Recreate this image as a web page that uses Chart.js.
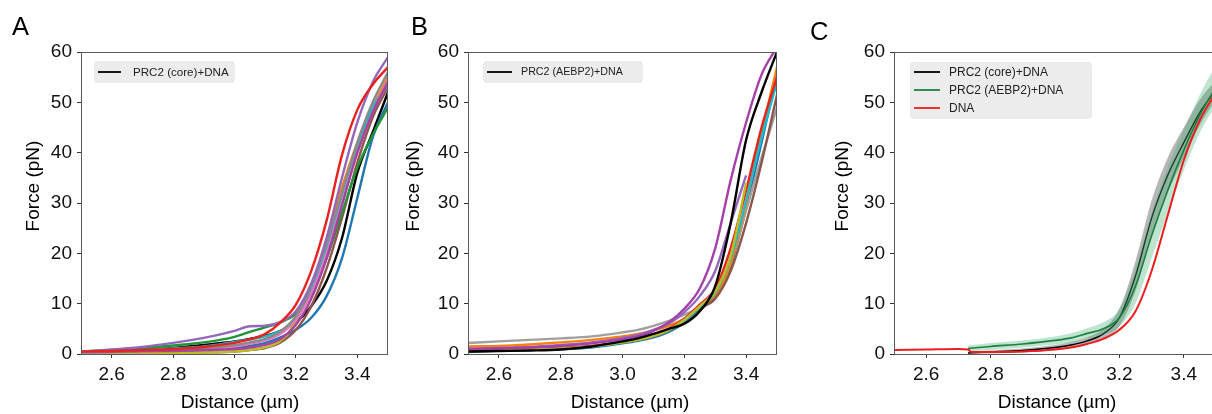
<!DOCTYPE html>
<html><head><meta charset="utf-8">
<script src="https://cdn.jsdelivr.net/npm/chart.js@4.4.1/dist/chart.umd.min.js"></script>
<style>
html,body{margin:0;padding:0;width:1212px;height:414px;overflow:hidden;background:#fff;}
.panel{position:absolute;top:0;}
canvas{display:block;}
</style></head><body>
<div class="panel" style="left:0px"><canvas id="cA" width="400" height="414"></canvas></div>
<div class="panel" style="left:404px"><canvas id="cB" width="400" height="414"></canvas></div>
<div class="panel" style="left:808px"><canvas id="cC" width="420" height="414"></canvas></div>
<script>
// ---------- data ----------
const X_TICKS = [2.6, 2.8, 3.0, 3.2, 3.4];
const Y_TICKS = [0, 10, 20, 30, 40, 50, 60];
// distance grid (µm) for panels A and B
const X = [2.5, 2.6, 2.7, 2.8, 2.9, 3.0, 3.05, 3.1, 3.15, 3.2, 3.25, 3.3, 3.35, 3.4, 3.45, 3.5];

// Panel A: PRC2 (core)+DNA traces, force (pN)
const A_BLACK   = [0.3,0.5,0.8,1.2,1.8,2.5,3.0,3.6,4.6,6.3,9.5,14.5,23,36,44,52];
const A_BLUE    = [0.3,0.4,0.5,0.6,0.8,1.2,1.6,2.2,3.3,4.8,7.2,11.5,19,31,43,50];
const A_BROWN   = [0.1,0.1,0.1,0.2,0.3,0.5,0.8,1.2,2.3,4.8,9.5,17,27,38,47,53];
const A_OLIVE   = [0.1,0.1,0.2,0.2,0.3,0.5,0.8,1.3,2.6,6.5,13,23,33,41,49,54];
const A_ORANGE  = [0.3,0.4,0.5,0.7,1.0,1.6,2.1,2.9,4.3,7.2,13,22.5,33,42,49,55];
const A_CYAN    = [0.4,0.6,0.8,1.1,1.5,2.4,2.9,3.5,4.6,7.0,12.5,21,31.5,41.5,49,53.5];
const A_GREEN   = [0.5,0.8,1.2,1.7,2.3,3.4,4.4,5.3,6.3,8.0,12,19,28,37,43.5,49];
const A_PINK    = [0.3,0.4,0.5,0.7,1.0,1.5,2.0,2.7,4.0,6.8,12,20,30,40,48,54.5];
const A_GRAY    = [0.3,0.4,0.6,0.8,1.2,1.8,2.3,3.0,4.5,7.5,13.5,22,32,42,50,56];
const A_MAGENTA = [0.5,0.5,0.6,0.6,0.8,1.0,1.3,1.8,3.0,5.8,11,19,29.5,40,48,54];
const A_PURPLE  = [0.5,0.9,1.4,2.2,3.2,4.6,5.5,5.6,6.4,8.5,14,23,35,46,54,59];
const A_RED     = [0.5,0.6,0.8,1.0,1.4,2.2,2.9,4.0,6.3,9.8,16.5,26.5,39.5,48.5,53.5,57];

// Panel B: PRC2 (AEBP2)+DNA traces, force (pN)
const B_BLUE     = [0.4,0.7,0.8,1.0,1.3,2.1,2.6,3.3,4.4,6.2,8.8,11.5,17.5,29,42,55.5];
const B_GRAY     = [2.2,2.5,2.8,3.1,3.5,4.3,4.8,5.6,6.6,7.8,9.3,11.5,18,28.5,39,49];
const B_ORANGE   = [1.5,1.6,1.9,2.3,2.8,3.5,4.0,4.7,5.6,7.0,9.0,11.5,18,30,44,57];
const B_BROWN    = [0.6,0.8,0.9,1.1,1.5,2.3,2.8,3.5,4.6,6.5,9.0,11,16.5,26,38,51.5];
const B_CYAN     = [0.6,0.8,0.9,1.1,1.5,2.3,2.8,3.6,4.7,6.6,9.3,12.2,19,30.5,43,54];
const B_RED      = [0.8,0.9,1.0,1.2,1.6,2.4,3.0,3.8,5.0,7.0,9.8,13,21,32.5,45,55];
const B_OLIVE    = [0.6,0.8,0.9,1.1,1.5,2.3,2.8,3.6,4.8,6.8,9.5,12.5,19.5,34,null,null];
const B_LAVENDER = [1.0,1.2,1.4,1.8,2.3,3.2,3.8,4.8,6.0,8.3,11.5,16.5,26,35.5,null,null];
const B_MAGENTA  = [1.0,1.1,1.3,1.6,2.1,2.9,3.5,4.6,6.3,9.0,13,21,34.5,46,55.5,61];
const B_BLACK    = [0.5,0.6,0.7,0.9,1.5,2.5,3.1,4.0,5.0,6.0,8.5,13.5,26,42.5,52,60];

// Panel C: averaged curves with spread bands
const C_X        = [2.73, 2.8, 2.9, 3.0, 3.05, 3.1, 3.15, 3.2, 3.25, 3.3, 3.35, 3.4, 3.45, 3.5];
const C_CORE     = [0.2,0.4,0.7,1.3,1.8,2.6,4.0,7.2,15.5,27,35.5,42,48,52.5];
const C_CORE_LO  = [0.0,0.1,0.3,0.8,1.2,1.9,3.1,5.5,12.5,23.5,32,39,45.5,50.5];
const C_CORE_HI  = [0.4,0.7,1.1,1.8,2.4,3.3,5.0,9.0,18.5,30.5,39,45,50.5,54.5];
const C_AEBP2    = [1.1,1.5,2.0,2.7,3.2,4.1,5.0,7.2,13.5,23.5,32.5,40.5,47.5,53];
const C_AEBP2_LO = [0.5,0.8,1.3,1.9,2.3,3.1,3.8,5.5,10,19,28,36.5,44,49.5];
const C_AEBP2_HI = [1.7,2.2,2.7,3.5,4.1,5.1,6.3,9.0,17,28,37,44.5,51.5,57.5];
const C_DNA_X    = [2.5, 2.6, 2.7, 2.73, 2.74, 2.8, 2.9, 3.0, 3.05, 3.1, 3.15, 3.2, 3.25, 3.3, 3.35, 3.4, 3.45, 3.5];
const C_DNA      = [0.8,0.9,1.0,0.9,0.4,0.4,0.5,0.9,1.3,2.0,3.0,4.8,8.5,16.5,27.5,38.5,46.5,52];

// ---------- helpers ----------
const FAM = "'Liberation Sans', Arial, Helvetica, sans-serif";
function pts(xs, ys){ const o=[]; for(let i=0;i<xs.length;i++){ if(ys[i]!==null) o.push({x:xs[i], y:ys[i]}); } return o; }
function traces(list, w){
  const n = list.length;
  return list.map((t,i)=>({label:t[2]||'', data:pts(X,t[0]), borderColor:t[1], backgroundColor:t[1],
    borderWidth:w, pointRadius:0, fill:false, cubicInterpolationMode:'monotone', order:n-i}));
}
function scales(yW){
  const grid = {display:true, drawOnChartArea:false, drawTicks:true, tickLength:4, color:'#333', lineWidth:1};
  return {
    x:{type:'linear', min:2.5, max:3.5,
      afterBuildTicks:s=>{ s.ticks = X_TICKS.map(v=>({value:v})); },
      afterFit:s=>{ s.height = 60; },
      grid:grid, border:{display:false},
      ticks:{font:{family:FAM,size:19}, color:'#111', padding:5, maxRotation:0, autoSkip:false,
        callback:v=>Number(v).toFixed(1)}},
    y:{type:'linear', min:0, max:60,
      afterBuildTicks:s=>{ s.ticks = Y_TICKS.map(v=>({value:v})); },
      afterFit:s=>{ s.width = yW; },
      grid:grid, border:{display:false},
      ticks:{font:{family:FAM,size:19}, color:'#111', padding:5, autoSkip:false,
        callback:v=>String(v)}}
  };
}
function rr(ctx,x,y,w,h,r){ ctx.beginPath(); ctx.moveTo(x+r,y); ctx.lineTo(x+w-r,y); ctx.quadraticCurveTo(x+w,y,x+w,y+r);
  ctx.lineTo(x+w,y+h-r); ctx.quadraticCurveTo(x+w,y+h,x+w-r,y+h); ctx.lineTo(x+r,y+h); ctx.quadraticCurveTo(x,y+h,x,y+h-r);
  ctx.lineTo(x,y+r); ctx.quadraticCurveTo(x,y,x+r,y); ctx.closePath(); }

const deco = {
  id:'deco',
  afterDraw(chart, args, o){
    const ctx = chart.ctx, ca = chart.chartArea;
    ctx.save();
    ctx.strokeStyle = '#5a5a5a'; ctx.lineWidth = 1;
    ctx.strokeRect(Math.round(ca.left)+0.5, Math.round(ca.top)+0.5, Math.round(ca.right-ca.left)-1, Math.round(ca.bottom-ca.top));
    // legend
    const L = o.legend;
    rr(ctx, L.x+0.5, L.y+0.5, L.w, L.h, 3);
    ctx.fillStyle = '#ececec'; ctx.fill();
    ctx.strokeStyle = 'rgba(0,0,0,0.05)'; ctx.stroke();
    const items = chart.data.datasets.filter(d=>d.label);
    ctx.font = L.size + 'px ' + FAM; ctx.textAlign='left'; ctx.textBaseline='middle';
    items.forEach((d,i)=>{
      const y = L.row0 + i*L.rowH;
      ctx.strokeStyle = d.borderColor; ctx.lineWidth = 1.8;
      ctx.beginPath(); ctx.moveTo(L.lx0, y+0.5); ctx.lineTo(L.lx1, y+0.5); ctx.stroke();
      ctx.fillStyle = '#222'; ctx.fillText(d.label, L.tx, y+1);
    });
    // axis titles
    ctx.fillStyle = '#000'; ctx.font = '19px ' + FAM; ctx.textBaseline='alphabetic'; ctx.textAlign='center';
    ctx.fillText(o.xTitle.text, o.xTitle.x, o.xTitle.y);
    ctx.save(); ctx.translate(o.yTitle.x, o.yTitle.y); ctx.rotate(-Math.PI/2); ctx.fillText(o.yTitle.text, 0, 0); ctx.restore();
    // panel letter
    ctx.font = '25.5px ' + FAM; ctx.textAlign='left';
    ctx.fillText(o.letter.text, o.letter.x, o.letter.y);
    ctx.restore();
  }
};
Chart.register(deco);

function make(id, datasets, yW, padRight, decoOpts){
  return new Chart(document.getElementById(id), {
    type:'line',
    data:{datasets:datasets},
    options:{responsive:false, animation:false, devicePixelRatio:1,
      layout:{padding:{left:0, right:padRight, top:52, bottom:0}},
      scales:scales(yW),
      plugins:{legend:{display:false}, tooltip:{enabled:false}, deco:decoOpts}
    }
  });
}

// ---------- Panel A ----------
make('cA', traces([
  [A_BLACK,'#000000','PRC2 (core)+DNA'],
  [A_BLUE,'#1f77b4'],[A_BROWN,'#8c564b'],[A_OLIVE,'#bcbd22'],[A_ORANGE,'#ff7f0e'],
  [A_CYAN,'#17becf'],[A_GREEN,'#1f9438'],[A_PINK,'#e377c2'],[A_GRAY,'#8a8a8a'],
  [A_MAGENTA,'#a8429f'],[A_PURPLE,'#9467bd'],[A_RED,'#e8221c']
], 2.4), 81, 12, {
  legend:{x:94, y:61, w:140, h:21, size:11.6, row0:71.5, rowH:18, lx0:98, lx1:121, tx:133},
  xTitle:{text:'Distance (µm)', x:240, y:408},
  yTitle:{text:'Force (pN)', x:39, y:186},
  letter:{text:'A', x:12, y:35}
});

// ---------- Panel B ----------
make('cB', traces([
  [B_BLUE,'#1f77b4'],[B_GRAY,'#a0a0a0'],[B_ORANGE,'#ff7f0e'],[B_BROWN,'#8c564b'],
  [B_CYAN,'#17becf'],[B_RED,'#e8221c'],[B_OLIVE,'#bcbd22'],[B_LAVENDER,'#9467bd'],
  [B_MAGENTA,'#a540a8'],[B_BLACK,'#000000','PRC2 (AEBP2)+DNA']
], 2.4), 64, 27, {
  legend:{x:79, y:61, w:159, h:21, size:10.7, row0:71.5, rowH:18, lx0:83, lx1:108, tx:117},
  xTitle:{text:'Distance (µm)', x:226, y:408},
  yTitle:{text:'Force (pN)', x:15, y:186},
  letter:{text:'B', x:7, y:35}
});

// ---------- Panel C ----------
const band = (d, fillTo, col, ord) => ({label:'', data:d, borderWidth:0, borderColor:'rgba(0,0,0,0)', pointRadius:0,
  backgroundColor:col, fill:fillTo, cubicInterpolationMode:'monotone', order:ord});
make('cC', [
  band(pts(C_X,C_CORE_LO), false, 'rgba(0,0,0,0)', 7),
  band(pts(C_X,C_CORE_HI), '-1', 'rgba(110,110,110,0.5)', 6),
  {label:'PRC2 (core)+DNA', data:pts(C_X,C_CORE), borderColor:'#000000', borderWidth:1.4, pointRadius:0, fill:false, cubicInterpolationMode:'monotone', order:5},
  band(pts(C_X,C_AEBP2_LO), false, 'rgba(0,0,0,0)', 4),
  band(pts(C_X,C_AEBP2_HI), '-1', 'rgba(70,175,115,0.35)', 3),
  {label:'PRC2 (AEBP2)+DNA', data:pts(C_X,C_AEBP2), borderColor:'#1a8040', borderWidth:1.6, pointRadius:0, fill:false, cubicInterpolationMode:'monotone', order:2},
  {label:'DNA', data:pts(C_DNA_X,C_DNA), borderColor:'#ee1c1c', borderWidth:2, pointRadius:0, fill:false, cubicInterpolationMode:'monotone', order:1}
], 86, 12, {
  legend:{x:102, y:62, w:181, h:56, size:12, row0:71.5, rowH:18, lx0:106, lx1:132, tx:141},
  xTitle:{text:'Distance (µm)', x:249, y:408},
  yTitle:{text:'Force (pN)', x:39.5, y:186},
  letter:{text:'C', x:2, y:40}
});
</script>
</body></html>
